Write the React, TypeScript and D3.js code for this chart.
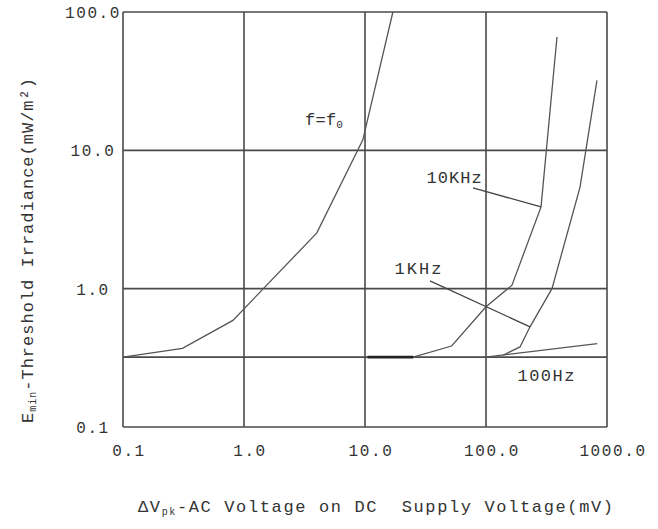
import React from 'react';
import * as d3 from 'd3';

// axis ticks
const xTicks = [0.1, 1, 10, 100, 1000];
const xTickLabels = ['0.1', '1.0', '10.0', '100.0', '1000.0'];
const yTicks = [0.1, 1, 10, 100];
const yTickLabels = ['0.1', '1.0', '10.0', '100.0'];
const refLevel = 0.32; // extra horizontal line

// curves, [mV, mW/m2]
const curveF0 = [
  [0.1, 0.32], [0.31, 0.37], [0.81, 0.59], [4.0, 2.53], [9.6, 11.9], [17.0, 100]
];
const curveMid = [
  [10.5, 0.32], [25, 0.32], [52, 0.385], [100, 0.74], [164, 1.06], [285, 3.9], [386, 66]
];
const curveRight = [
  [138, 0.33], [191, 0.379], [231, 0.53], [351, 1.0], [598, 5.4], [826, 32]
];
const curve100 = [
  [100, 0.32], [130, 0.33], [830, 0.4]
];

// leader lines
const leader10k = [[78, 5.35], [285, 3.9]];
const leader1k = [[34.4, 1.14], [231, 0.53]];

const labels = [
  { text: 'f=f', sub: '0', x: 4.58, y: 16.6, len: 38 },
  { text: '10KHz', sub: '', x: 54.5, y: 6.3, len: 55 },
  { text: '1KHz', sub: '', x: 27.4, y: 1.39, len: 47 },
  { text: '100Hz', sub: '', x: 313, y: 0.234, len: 57 },
];

const W = 658;
const H = 529;
const left = 123, right = 607, top = 12, bottom = 427;

const ink = '#333';
const font = '"Liberation Mono", "DejaVu Sans Mono", monospace';

export default function App() {
  const x = d3.scaleLog().domain([0.1, 1000]).range([left, right]);
  const y = d3.scaleLog().domain([0.1, 100]).range([bottom, top]);
  const line = d3.line<number[]>().x(d => x(d[0])).y(d => y(d[1]));

  const curves = [curveF0, curveMid, curveRight, curve100];
  const leaders = [leader10k, leader1k];
  // the flat part of the middle curve sits on the 0.32 line, drawn heavier there
  const flatPart = curveMid.slice(0, 2);

  return (
    <svg width={W} height={H} style={{ position: 'absolute', left: 0, top: 0, background: '#fff' }}>
      <rect x={0} y={0} width={W} height={H} fill="#fff" />
      {/* grid */}
      {xTicks.map(t => (
        <line key={'gx' + t} x1={x(t)} x2={x(t)} y1={top} y2={bottom} stroke="#4a4a4a" strokeWidth={1.6} />
      ))}
      {yTicks.concat([refLevel]).map(t => (
        <line key={'gy' + t} x1={left} x2={right} y1={y(t)} y2={y(t)} stroke="#4a4a4a" strokeWidth={1.6} />
      ))}

      {/* curves */}
      {curves.map((c, i) => (
        <path key={'c' + i} d={line(c) || ''} fill="none" stroke="#555" strokeWidth={1.3} />
      ))}
      <path d={line(flatPart) || ''} fill="none" stroke="#222" strokeWidth={2.6} />
      {leaders.map((c, i) => (
        <path key={'l' + i} d={line(c) || ''} fill="none" stroke="#444" strokeWidth={1.3} />
      ))}

      {/* tick labels */}
      {xTicks.map((t, i) => (
        <text key={'tx' + t} x={x(t) + 6} y={456} textAnchor="middle" fontFamily={font}
          fontSize={16} letterSpacing={1.6} fill={ink}>{xTickLabels[i]}</text>
      ))}
      {yTicks.map((t, i) => (
        <text key={'ty' + t} x={93} y={y(t) + 6} textAnchor="middle" fontFamily={font}
          fontSize={16} letterSpacing={1.6} fill={ink}>{yTickLabels[i]}</text>
      ))}

      {/* curve labels */}
      {labels.map(l => (
        <text key={l.text} x={x(l.x) - l.len / 2} y={y(l.y) + 5} fontFamily={font}
          fontSize={17} fill={ink} textLength={l.len} lengthAdjust="spacing">
          {l.text}
          {l.sub && <tspan fontSize={11} dy={3}>{l.sub}</tspan>}
        </text>
      ))}

      {/* axis titles */}
      <text x={138} y={512} fontFamily={font} fontSize={17} fill={ink}
        textLength={475} lengthAdjust="spacing" style={{ whiteSpace: 'pre' }}>
        ΔV<tspan fontSize={10} dy={3}>pk</tspan><tspan dy={-3}>-AC Voltage on DC  Supply Voltage(mV)</tspan>
      </text>
      <text transform="translate(33,423) rotate(-90)" x={0} y={0} fontFamily={font} fontSize={17}
        fill={ink} textLength={345} lengthAdjust="spacing">
        E<tspan fontSize={10} dy={3}>min</tspan><tspan dy={-3}>-Threshold Irradiance(mW/m²)</tspan>
      </text>
    </svg>
  );
}
